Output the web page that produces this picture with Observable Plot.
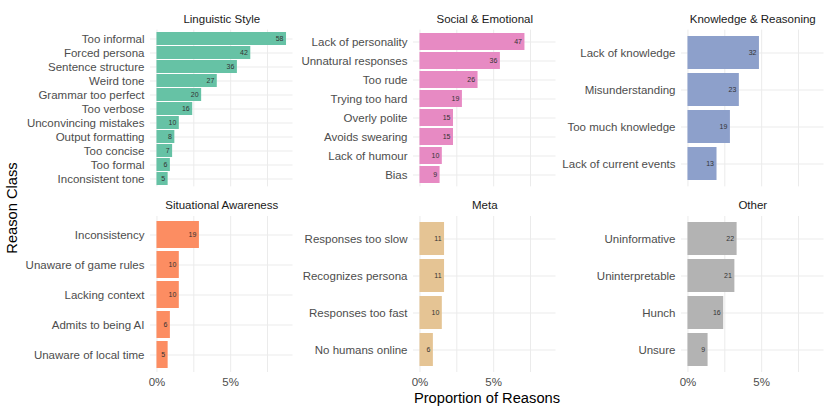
<!DOCTYPE html>
<html>
<head>
<meta charset="utf-8">
<script src="https://cdn.jsdelivr.net/npm/d3@7"></script>
<script src="https://cdn.jsdelivr.net/npm/@observablehq/plot@0.6"></script>
<style>
  html, body { margin: 0; padding: 0; background: #fff; }
  #chart { position: relative; width: 830px; height: 415px; font-family: "Liberation Sans", Arial, sans-serif; }
  #chart svg { position: absolute; overflow: visible; }
  .axtitle { position: absolute; font-size: 14.7px; color: #000; white-space: nowrap; }
</style>
</head>
<body>
<div id="chart"></div>
<script>
// ---- data ----
const totalReasons = 660;

const facetTitles = ["Linguistic Style", "Social & Emotional", "Knowledge & Reasoning",
                     "Situational Awareness", "Meta", "Other"];
const facetColors = ["#66C2A5", "#E78AC3", "#8DA0CB", "#FC8D62", "#E5C494", "#B3B3B3"];

const linguisticReasons = ["Too informal", "Forced persona", "Sentence structure", "Weird tone",
  "Grammar too perfect", "Too verbose", "Unconvincing mistakes", "Output formatting",
  "Too concise", "Too formal", "Inconsistent tone"];
const linguisticCounts = [58, 42, 36, 27, 20, 16, 10, 8, 7, 6, 5];

const socialReasons = ["Lack of personality", "Unnatural responses", "Too rude", "Trying too hard",
  "Overly polite", "Avoids swearing", "Lack of humour", "Bias"];
const socialCounts = [47, 36, 26, 19, 15, 15, 10, 9];

const knowledgeReasons = ["Lack of knowledge", "Misunderstanding", "Too much knowledge", "Lack of current events"];
const knowledgeCounts = [32, 23, 19, 13];

const situationalReasons = ["Inconsistency", "Unaware of game rules", "Lacking context",
  "Admits to being AI", "Unaware of local time"];
const situationalCounts = [19, 10, 10, 6, 5];

const metaReasons = ["Responses too slow", "Recognizes persona", "Responses too fast", "No humans online"];
const metaCounts = [11, 11, 10, 6];

const otherReasons = ["Uninformative", "Uninterpretable", "Hunch", "Unsure"];
const otherCounts = [22, 21, 16, 9];

const xTicks = [0, 0.05];
const xGrid = [0, 0.025, 0.05, 0.075];

// ---- build ----
const facetReasons = [linguisticReasons, socialReasons, knowledgeReasons, situationalReasons, metaReasons, otherReasons];
const facetCounts = [linguisticCounts, socialCounts, knowledgeCounts, situationalCounts, metaCounts, otherCounts];

const allProps = facetCounts.flat().map(c => c / totalReasons);
const maxP = d3.max(allProps);
const xDomain = [-0.05 * maxP, maxP * 1.05];

// layout of panels (pixel frame of each panel)
const colLayout = [
  {svgLeft: 0, panelLeft: 150},
  {svgLeft: 292.5, panelLeft: 412.5},
  {svgLeft: 555, panelLeft: 681}
];
const panelWidth = 142.5;
const rowLayout = [
  {svgTop: 0, height: 190, panelTop: 29.6, panelBottom: 186.4},
  {svgTop: 190, height: 225, panelTop: 216, panelBottom: 372}
];

const chart = document.getElementById("chart");
const font = '"Liberation Sans", Arial, sans-serif';

facetTitles.forEach((title, i) => {
  const col = colLayout[i % 3];
  const row = rowLayout[Math.floor(i / 3)];
  const isBottom = i >= 3;
  const data = facetReasons[i].map((r, j) => ({reason: r, count: facetCounts[i][j], prop: facetCounts[i][j] / totalReasons}));
  const marginLeft = col.panelLeft - col.svgLeft;
  const marginTop = row.panelTop - row.svgTop;
  const marginBottom = row.svgTop + row.height - row.panelBottom;
  const svg = Plot.plot({
    width: marginLeft + panelWidth,
    height: row.height,
    marginLeft,
    marginRight: 0,
    marginTop,
    marginBottom,
    style: {fontFamily: font, background: "transparent", overflow: "visible"},
    x: {domain: xDomain},
    y: {domain: facetReasons[i], paddingInner: 0.1, paddingOuter: 0.15},
    marks: [
      Plot.gridX(xGrid, {stroke: "#EBEBEB", strokeOpacity: 1, strokeWidth: 1}),
      Plot.gridY({stroke: "#EBEBEB", strokeOpacity: 1, strokeWidth: 1}),
      Plot.barX(data, {x: "prop", y: "reason", fill: facetColors[i]}),
      Plot.text(data, {x: "prop", y: "reason", text: d => String(d.count), textAnchor: "end", dx: -3,
        fontSize: 7, fill: "#333333"}),
      Plot.axisY({tickSize: 0, tickPadding: 6, fontSize: 11.5, color: "#4D4D4D", label: null}),
      isBottom
        ? Plot.axisX(xTicks, {tickSize: 0, tickPadding: 5, fontSize: 11.5, color: "#4D4D4D",
            tickFormat: d => d3.format(".0%")(d), label: null})
        : Plot.axisX({ticks: [], label: null}),
      Plot.text([title], {frameAnchor: "top", dy: -11, lineAnchor: "middle", fontSize: 11.5, fill: "#1A1A1A"})
    ]
  });
  svg.style.left = col.svgLeft + "px";
  svg.style.top = row.svgTop + "px";
  chart.appendChild(svg);
});

const xt = document.createElement("div");
xt.className = "axtitle";
xt.textContent = "Proportion of Reasons";
xt.style.left = "487px";
xt.style.top = "398px";
xt.style.transform = "translate(-50%, -50%)";
chart.appendChild(xt);

const yt = document.createElement("div");
yt.className = "axtitle";
yt.textContent = "Reason Class";
yt.style.left = "12px";
yt.style.top = "208px";
yt.style.transform = "translate(-50%, -50%) rotate(-90deg)";
chart.appendChild(yt);
</script>
</body>
</html>
